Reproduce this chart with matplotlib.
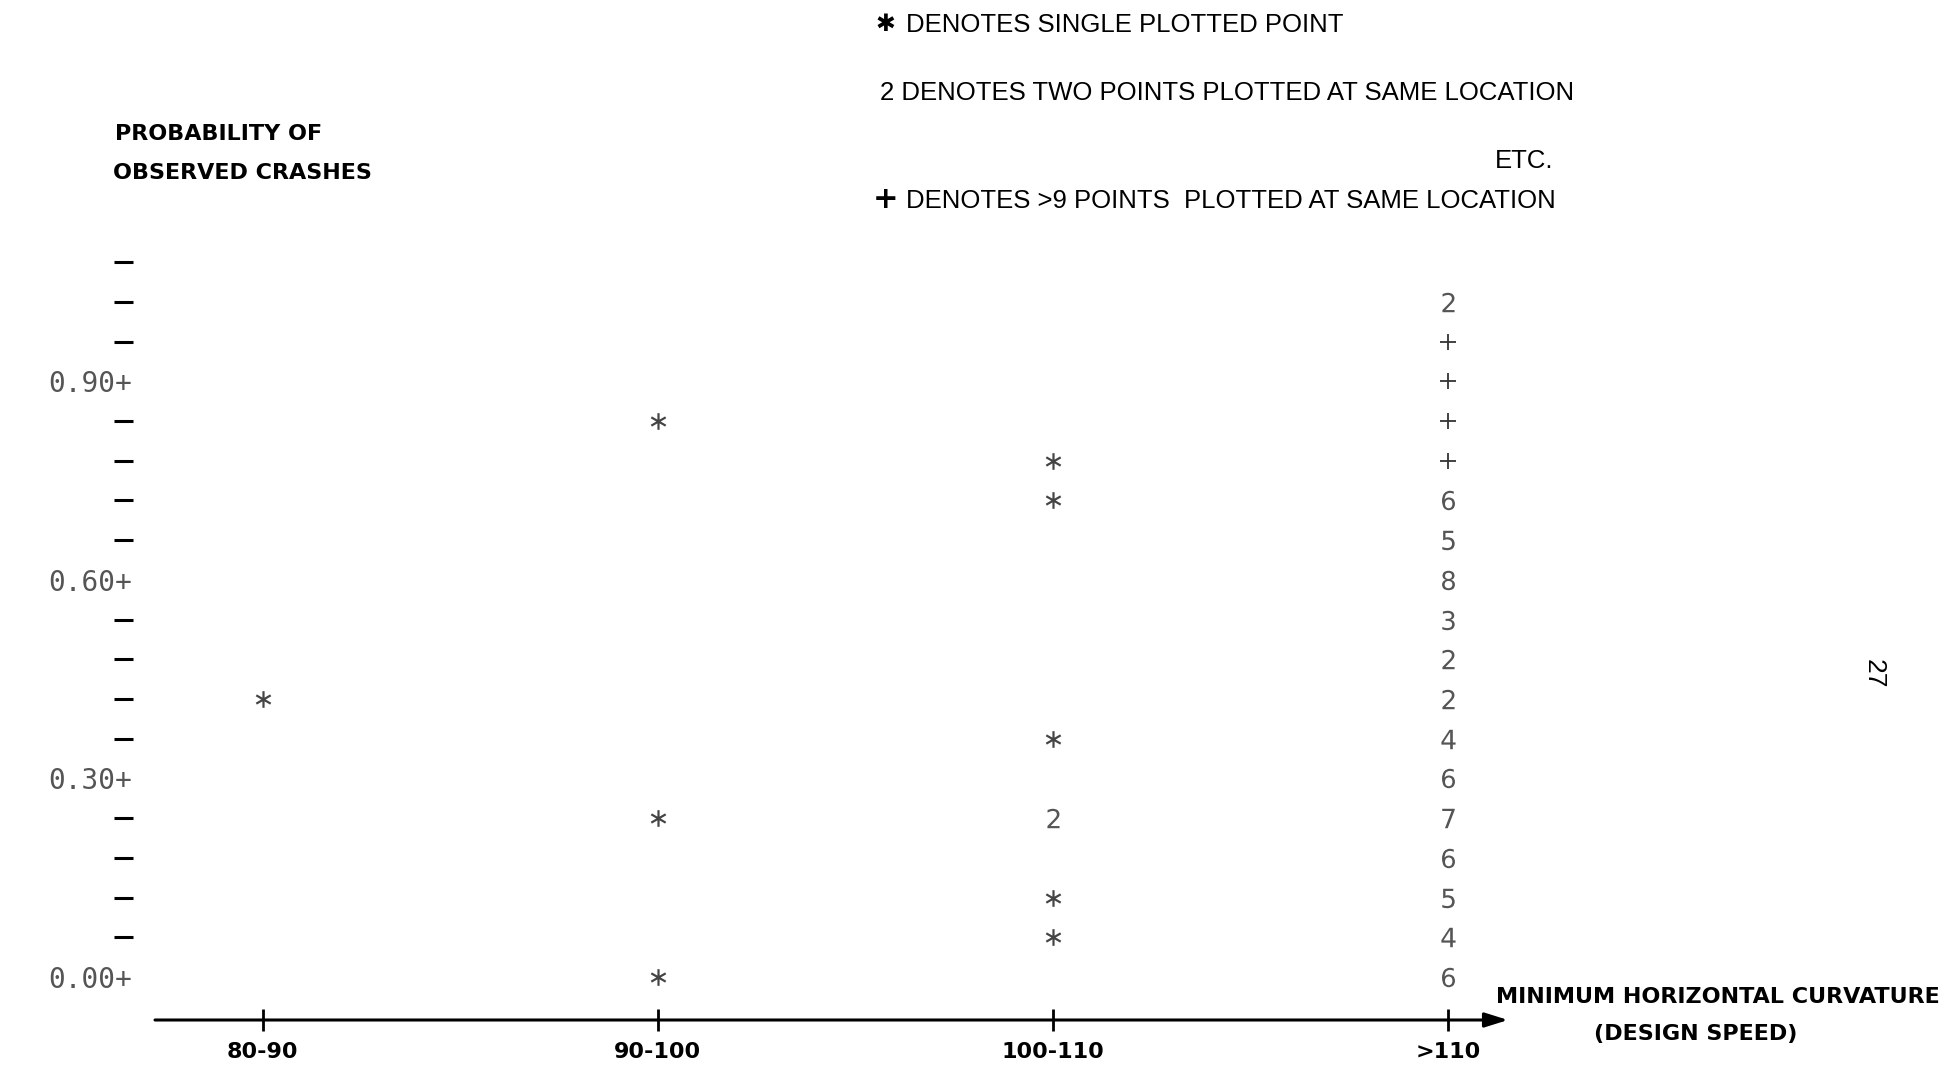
import matplotlib.pyplot as plt
import numpy as np

W, H = 1946, 1069

categories = ['80-90', '90-100', '100-110', '>110']

# one entry per printed location: category index, probability, points stacked there
# (a count of 10 stands for ">9" and is printed as "+")
point_cat = [0,
             1, 1, 1,
             2, 2, 2, 2, 2, 2,
             3, 3, 3, 3, 3, 3, 3, 3, 3, 3, 3, 3, 3, 3, 3, 3, 3, 3]
point_prob = [0.42,
              0.84, 0.24, 0.00,
              0.78, 0.72, 0.36, 0.24, 0.12, 0.06,
              1.02, 0.96, 0.90, 0.84, 0.78, 0.72, 0.66, 0.60, 0.54,
              0.48, 0.42, 0.36, 0.30, 0.24, 0.18, 0.12, 0.06, 0.00]
point_count = [1,
               1, 1, 1,
               1, 1, 1, 2, 1, 1,
               2, 10, 10, 10, 10, 6, 5, 8, 3,
               2, 2, 4, 6, 7, 6, 5, 4, 6]

y_major = [0.00, 0.30, 0.60, 0.90]
y_major_labels = ['0.00+', '0.30+', '0.60+', '0.90+']
y_minor = [0.06, 0.12, 0.18, 0.24, 0.36, 0.42, 0.48, 0.54,
           0.66, 0.72, 0.78, 0.84, 0.96, 1.02, 1.08]


def symbol(n):
    if n == 1:
        return r'$\ast$'
    if n > 9:
        return '+'
    return '$%d$' % n


fig = plt.figure(figsize=(W / 100, H / 100), dpi=100)
ax = fig.add_axes([155 / W, 1 - 1020 / H, 1353 / W, (1020 - 249) / H])
ax.set_xlim(-0.273, 3.152)
ax.set_ylim(-0.065, 1.10)

for s in ax.spines.values():
    s.set_visible(False)
ax.spines['left'].set_position(('outward', 16))

# x axis drawn as an arrow
ax.annotate('', xy=(1, 0), xytext=(0, 0), xycoords='axes fraction',
            arrowprops=dict(arrowstyle='-|>,head_length=0.7,head_width=0.22',
                            color='black', lw=2.2, shrinkA=0, shrinkB=0,
                            mutation_scale=20),
            annotation_clip=False)

ax.set_xticks(range(len(categories)), categories)
ax.tick_params(axis='x', direction='inout', length=16, width=2, pad=8,
               labelsize=16)
for lbl in ax.get_xticklabels():
    lbl.set_fontweight('bold')

ax.set_yticks(y_major, y_major_labels)
ax.set_yticks(y_minor, minor=True)
ax.tick_params(axis='y', which='major', length=0, pad=0.5, labelsize=20,
               labelcolor='#555555')
ax.tick_params(axis='y', which='minor', direction='out', length=13.5,
               width=2.2, color='black')
for lbl in ax.get_yticklabels():
    lbl.set_fontfamily('DejaVu Sans Mono')

# the printed points
cat = np.array(point_cat)
prob = np.array(point_prob)
syms = [symbol(n) for n in point_count]
for sym in sorted(set(syms)):
    idx = [i for i, s in enumerate(syms) if s == sym]
    if sym == '+':
        ax.scatter(cat[idx], prob[idx], marker='+', s=12 ** 2, c='#333333',
                   linewidths=1.3, clip_on=False)
    elif sym == r'$\ast$':
        ax.scatter(cat[idx], prob[idx], marker=sym, s=12 ** 2, c='#444444',
                   linewidths=0, clip_on=False)
    else:
        ax.scatter(cat[idx], prob[idx], marker=sym, s=14 ** 2, c='#555555',
                   linewidths=0, clip_on=False)


def fx(px):
    return px / W


def fy(py):
    return 1 - py / H


# axis titles
bold = dict(fontfamily='DejaVu Sans', fontweight='bold', fontsize=16,
            va='center')
fig.text(fx(115), fy(134), 'PROBABILITY OF', ha='left', **bold)
fig.text(fx(113), fy(173), 'OBSERVED CRASHES', ha='left', **bold)
fig.text(fx(1496), fy(997), 'MINIMUM HORIZONTAL CURVATURE', ha='left', **bold)
fig.text(fx(1696), fy(1034), '(DESIGN SPEED)', ha='center', **bold)

# key at the top
key = dict(fontfamily='Liberation Sans', fontsize=18.5, va='center')
fig.text(fx(885), fy(24), '\u2731', ha='center', fontfamily='DejaVu Sans',
         fontweight='bold', fontsize=17, va='center')
fig.text(fx(906), fy(25), 'DENOTES SINGLE PLOTTED POINT', ha='left', **key)
fig.text(fx(880), fy(93), '2 DENOTES TWO POINTS PLOTTED AT SAME LOCATION',
         ha='left', **key)
fig.text(fx(1553), fy(161), 'ETC.', ha='right', **key)
fig.text(fx(886), fy(200), '+', ha='center', fontfamily='DejaVu Sans',
         fontweight='bold', fontsize=22, va='center')
fig.text(fx(906), fy(201), 'DENOTES >9 POINTS  PLOTTED AT SAME LOCATION',
         ha='left', **key)

# page number
fig.text(fx(1874), fy(674), '27', rotation=270, ha='center', va='center',
         fontfamily='Liberation Sans', fontsize=19)

fig.savefig('out.png', dpi=100)
